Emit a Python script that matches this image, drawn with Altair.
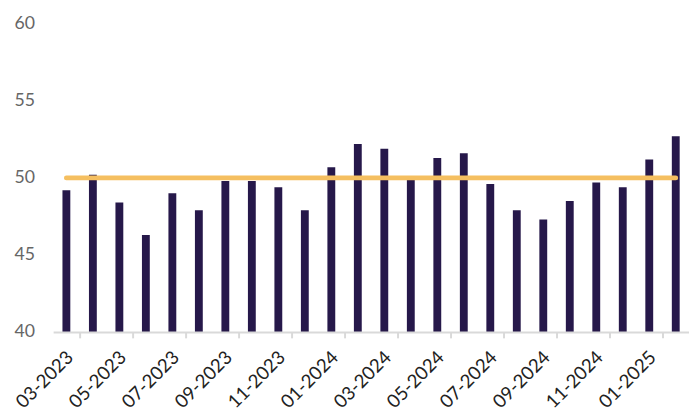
import altair as alt
import pandas as pd

months = ["03-2023", "04-2023", "05-2023", "06-2023", "07-2023", "08-2023",
          "09-2023", "10-2023", "11-2023", "12-2023", "01-2024", "02-2024",
          "03-2024", "04-2024", "05-2024", "06-2024", "07-2024", "08-2024",
          "09-2024", "10-2024", "11-2024", "12-2024", "01-2025", "02-2025"]
values = [49.2, 50.2, 48.4, 46.3, 49.0, 47.9,
          49.8, 49.8, 49.4, 47.9, 50.7, 52.2,
          51.9, 49.9, 51.3, 51.6, 49.6, 47.9,
          47.3, 48.5, 49.7, 49.4, 51.2, 52.7]
threshold = [50.0] * len(months)
y_min, y_max = 40, 60

df = pd.DataFrame({"month": months, "value": values, "ref": threshold})

FONT = "Lato"

x = alt.X(
    "month:N",
    sort=months,
    title=None,
    scale=alt.Scale(paddingInner=0, paddingOuter=0),
    axis=alt.Axis(
        labelAngle=-45,
        labelFontSize=19,
        labelColor="#222222",
        labelFont=FONT,
        labelPadding=10,
        labelOffset=-3,
        labelExpr="parseInt(substring(datum.value,0,2)) % 2 == 1 ? datum.value : ''",
        tickBand="extent",
        tickColor="#d9d9d9",
        tickWidth=2,
        tickSize=6,
        tickOpacity={"condition": {"test": "parseInt(substring(datum.value,0,2)) % 2 == 1", "value": 1}, "value": 0},
        domainColor="#d9d9d9",
        domainWidth=2,
        grid=False,
        zindex=1,
    ),
)

y_scale = alt.Scale(domain=[y_min, y_max], nice=False, zero=False)
y_axis = alt.Axis(
    values=[40, 45, 50, 55, 60],
    labelFontSize=18,
    labelColor="#666666",
    labelFont=FONT,
    labelPadding=19,
    ticks=False,
    tickSize=0,
    domain=False,
    grid=False,
    title=None,
)

bars = alt.Chart(df).mark_bar(size=8, color="#26184a").encode(
    x=x,
    y=alt.Y("value:Q", scale=y_scale, axis=y_axis),
    y2=alt.datum(y_min),
)

line = alt.Chart(df).mark_line(color="#f5bf60", strokeWidth=5, strokeCap="round").encode(
    x=alt.X("month:N", sort=months),
    y=alt.Y("ref:Q", scale=y_scale),
)

chart = alt.layer(bars, line).properties(
    width=648,
    height=314,
    padding={"left": 46, "top": 12, "right": 0, "bottom": 110},
    autosize=alt.AutoSizeParams(type="none"),
).configure_view(stroke=None)

chart.save("out.html", embed_options={"renderer": "svg", "actions": False})
